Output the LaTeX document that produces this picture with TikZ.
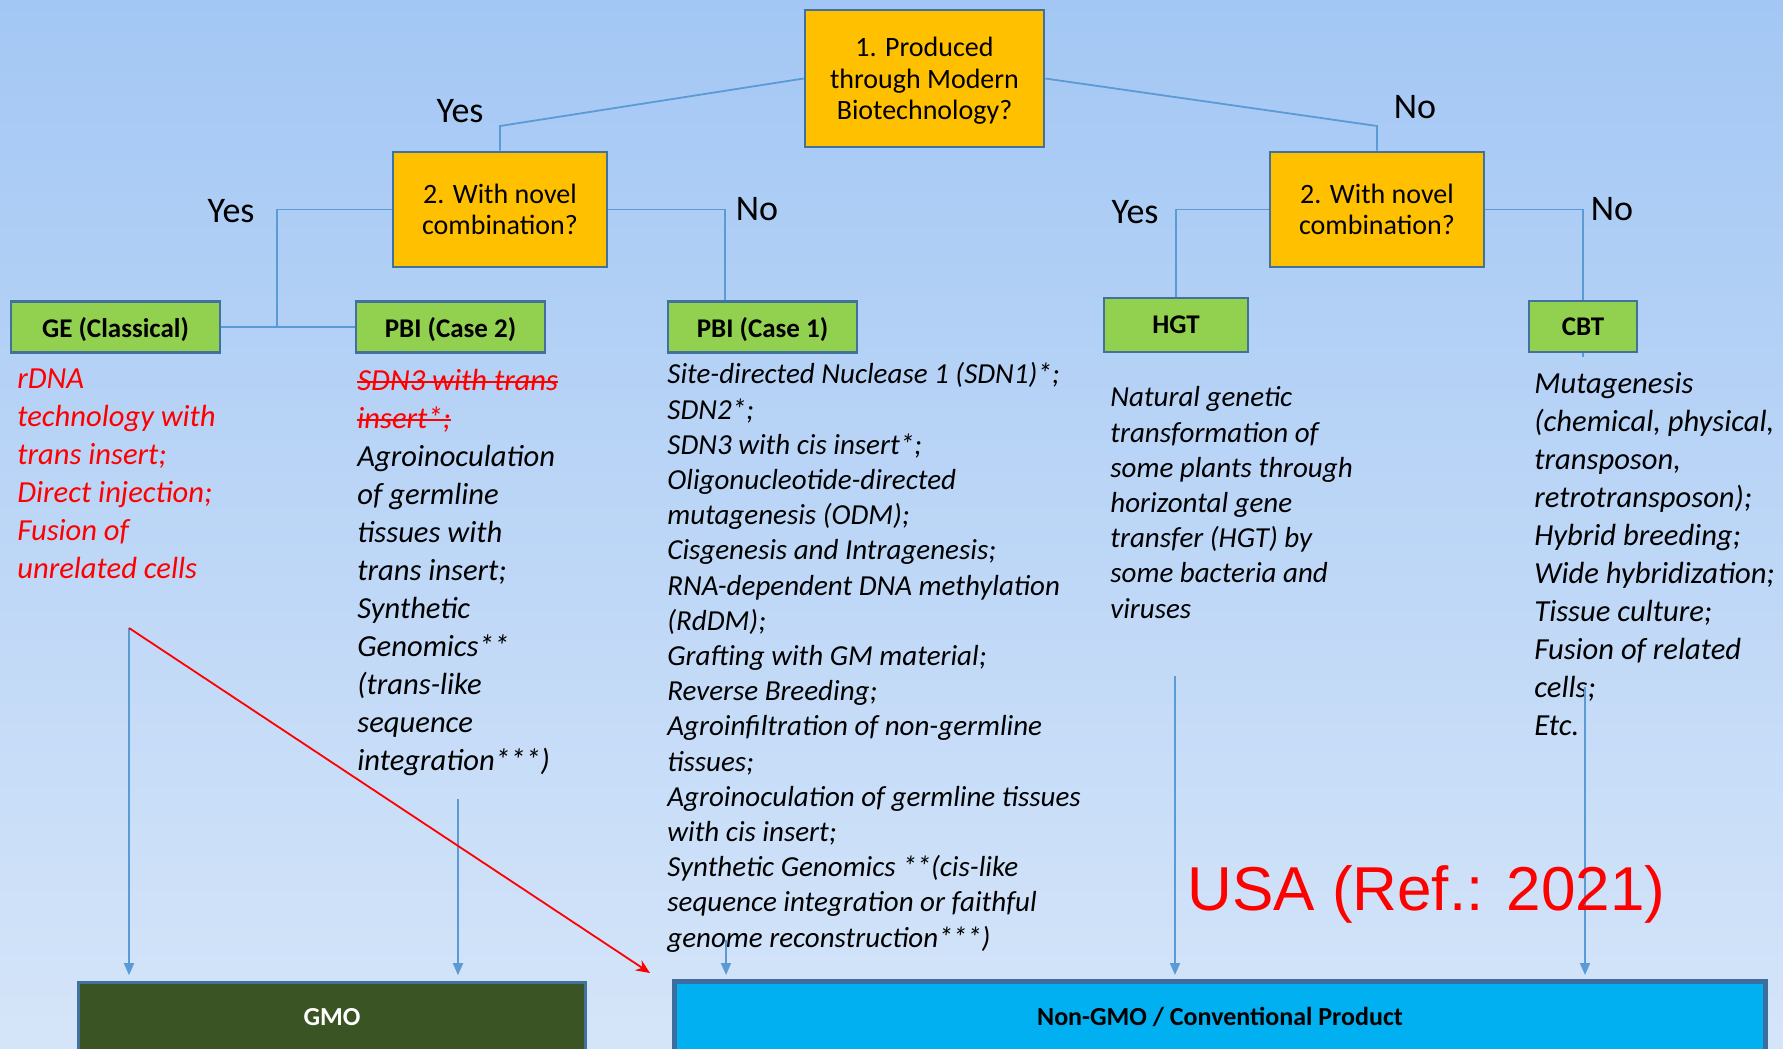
\documentclass[tikz,border=0pt]{standalone}
\usepackage{fontspec}
\setmainfont{Carlito}
\newfontfamily\arialfont{Liberation Sans}
\usetikzlibrary{arrows.meta,calc}

\definecolor{bgtop}{HTML}{A3C7F4}
\definecolor{bgbot}{HTML}{D5E5F9}
\definecolor{qfill}{HTML}{FFC000}
\definecolor{gfill}{HTML}{92D050}
\definecolor{boxline}{HTML}{41719C}
\definecolor{lineblue}{HTML}{5B9BD5}
\definecolor{gmofill}{HTML}{3A5423}
\definecolor{ngfill}{HTML}{00B0F0}
\definecolor{ngline}{HTML}{3B6E9E}
\definecolor{pure red}{HTML}{FF0000}

% struck-through text: the word, with a 1pt rule across its middle
\newsavebox\mystrikebox
\newcommand\strikeword[1]{\sbox\mystrikebox{#1}\rlap{\usebox\mystrikebox}\rule[0.24em]{\wd\mystrikebox}{1pt}}

\begin{document}
\begin{tikzpicture}[x=0.5pt,y=-0.5pt,
  qbox/.style={draw=boxline, line width=1.3pt, fill=qfill, inner sep=0pt,
    align=center, text depth=0pt, font=\fontsize{14pt}{15.75pt}\selectfont},
  gbox/.style={draw=boxline, line width=1.3pt, fill=gfill, inner sep=0pt,
    align=center, text depth=0pt, font=\fontsize{13.5pt}{16pt}\selectfont\bfseries},
  answer/.style={anchor=base, inner sep=0pt, font=\fontsize{18pt}{20pt}\selectfont},
  % lists are placed by the baseline of their last line
  listA/.style={anchor=base west, inner sep=0pt, align=left,
    font=\fontsize{15.3pt}{19pt}\selectfont\itshape},
  listB/.style={anchor=base west, inner sep=0pt, align=left,
    font=\fontsize{14.5pt}{17.6pt}\selectfont\itshape},
  conn/.style={draw=lineblue, line width=0.9pt},
  arr/.style={conn, -{Triangle[width=5pt,length=6pt]}},
  redarr/.style={draw=pure red, line width=0.9pt, -{Stealth[width=6pt,length=7pt]}}
]
% background
\shade[top color=bgtop, bottom color=bgbot] (0,0) rectangle (1783,1049);
\path[use as bounding box] (0,0) rectangle (1783,1049);

% question boxes
\node[qbox, minimum width=119.5pt, minimum height=68.5pt] (T) at (924.5,78.5)
  {1. Produced\\through Modern\\Biotechnology?};
\node[qbox, minimum width=107pt, minimum height=57.5pt] (L2) at (500,209.5)
  {2. With novel\\combination?};
\node[qbox, minimum width=107pt, minimum height=57.5pt] (R2) at (1377,209.5)
  {2. With novel\\combination?};

% category boxes
\node[gbox, minimum width=104.5pt, minimum height=25.5pt] (GE) at (115.5,327) {GE (Classical)};
\node[gbox, minimum width=94.5pt, minimum height=25.5pt] (P2) at (450.5,327) {PBI (Case 2)};
\node[gbox, minimum width=94.5pt, minimum height=25.5pt] (P1) at (762.5,327) {PBI (Case 1)};
\node[gbox, minimum width=72pt, minimum height=27pt] (HGT) at (1176,325) {HGT};
\node[gbox, minimum width=54pt, minimum height=25.5pt] (CBT) at (1583,326.5) {CBT};

% outcome boxes
\node[draw=boxline, line width=1.3pt, fill=gmofill, minimum width=253.5pt, minimum height=34.5pt,
  inner sep=0pt, text=white, font=\fontsize{13pt}{15pt}\selectfont\bfseries] (GMO) at (332,1017) {GMO};
\node[draw=ngline, line width=2.5pt, fill=ngfill, minimum width=545.5pt, minimum height=35.5pt,
  inner sep=0pt, font=\fontsize{13pt}{15pt}\selectfont\bfseries] (NG) at (1220,1017) {Non-GMO / Conventional Product};

% yes / no answers
\node[answer] (y0) at (460,122) {Yes};
\node[answer] (n0) at (1415,118) {No};
\node[answer] (y1) at (231,222) {Yes};
\node[answer] (n1) at (757,220) {No};
\node[answer] (y2) at (1135,223) {Yes};
\node[answer] (n2) at (1612,220) {No};

% tree connectors
\coordinate (yk) at (0,126);
\draw[conn] (T.west) -- (L2.north |- yk) -- (L2.north);
\draw[conn] (T.east) -- (R2.north |- yk) -- (R2.north);
\coordinate (jl) at (277,326);
\draw[conn] (L2.west) -| (jl);
\draw[conn] (GE.east) -- (P2.west);
\coordinate (jr) at (725,0);
\draw[conn] (L2.east) -| (jr |- P1.north);
\draw[conn] (R2.west) -| (HGT.north);
\draw[conn] (R2.east) -| (CBT.north);
\draw[conn] (CBT.south) -- ++(0,4);

% method lists
\node[listA, text=pure red] (geT) at (17,578)
  {rDNA\\technology with\\trans insert;\\Direct injection;\\Fusion of\\unrelated cells};
\node[listA] (p2T) at (357,770)
  {{\color{pure red}\strikeword{SDN3 with trans}}\\{\color{pure red}\strikeword{insert*;}}\\Agroinoculation\\of germline\\tissues with\\trans insert;\\Synthetic\\Genomics**\\(trans-like\\sequence\\integration***)};
\node[listB] (p1T) at (667,947)
  {Site-directed Nuclease 1 (SDN1)*;\\SDN2*;\\SDN3 with cis insert*;\\Oligonucleotide-directed\\mutagenesis (ODM);\\Cisgenesis and Intragenesis;\\RNA-dependent DNA methylation\\(RdDM);\\Grafting with GM material;\\Reverse Breeding;\\Agroinfiltration of non-germline\\tissues;\\Agroinoculation of germline tissues\\with cis insert;\\Synthetic Genomics **(cis-like\\sequence integration or faithful\\genome reconstruction***)};
\node[listB] (hT) at (1110,618)
  {Natural genetic\\transformation of\\some plants through\\horizontal gene\\transfer (HGT) by\\some bacteria and\\viruses};
\node[listA] (cT) at (1534,735)
  {Mutagenesis\\(chemical, physical,\\transposon,\\retrotransposon);\\Hybrid breeding;\\Wide hybridization;\\Tissue culture;\\Fusion of related\\cells;\\Etc.};

% outcome arrows
\coordinate (ga) at (129,628);
\coordinate (pa) at (458,799);
\coordinate (qa) at (726,940);
\coordinate (ha) at (1175,676);
\coordinate (ca) at (1585,687);
\coordinate (rt) at (650,973);
\draw[arr, shorten >=3pt] (ga) -- (ga |- GMO.north);
\draw[arr, shorten >=3pt] (pa) -- (pa |- GMO.north);
\draw[arr, shorten >=2pt] (qa) -- (qa |- NG.north);
\draw[arr, shorten >=2pt] (ha) -- (ha |- NG.north);
\draw[arr, shorten >=2pt] (ca) -- (ca |- NG.north);
\draw[redarr] (ga) -- (rt);

% reference note
\node[anchor=base west, inner sep=0pt, text=pure red, font=\fontsize{31pt}{36pt}\arialfont] (usa) at (1187,910)
  {USA (Ref.: 2021)};
\end{tikzpicture}
\end{document}
